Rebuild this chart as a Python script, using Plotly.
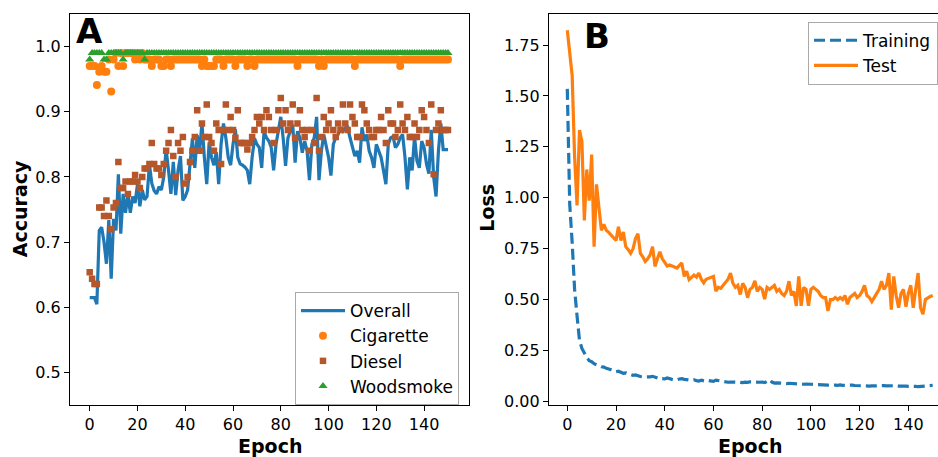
import plotly.graph_objects as go

epochs = list(range(151))

overall = [0.615, 0.615, 0.615, 0.605, 0.718, 0.723, 0.700, 0.667, 0.734, 0.644,
           0.736, 0.718, 0.804, 0.713, 0.774, 0.745, 0.774, 0.745, 0.770, 0.760,
           0.789, 0.755, 0.780, 0.765, 0.770, 0.819, 0.790, 0.779, 0.774, 0.785,
           0.780, 0.800, 0.842, 0.810, 0.774, 0.823, 0.772, 0.810, 0.832, 0.764,
           0.770, 0.780, 0.814, 0.859, 0.814, 0.864, 0.840, 0.882, 0.830, 0.789,
           0.853, 0.830, 0.818, 0.838, 0.789, 0.850, 0.882, 0.860, 0.830, 0.818,
           0.850, 0.873, 0.830, 0.820, 0.818, 0.815, 0.810, 0.789, 0.830, 0.859,
           0.850, 0.845, 0.814, 0.870, 0.860, 0.855, 0.845, 0.810, 0.850, 0.872,
           0.892, 0.859, 0.817, 0.860, 0.870, 0.880, 0.822, 0.870, 0.860, 0.837,
           0.855, 0.840, 0.795, 0.850, 0.860, 0.892, 0.795, 0.840, 0.865, 0.850,
           0.830, 0.802, 0.850, 0.860, 0.865, 0.876, 0.870, 0.875, 0.876, 0.860,
           0.845, 0.832, 0.840, 0.822, 0.876, 0.855, 0.865, 0.840, 0.830, 0.814,
           0.850, 0.840, 0.830, 0.810, 0.789, 0.850, 0.860, 0.862, 0.845, 0.850,
           0.860, 0.865, 0.830, 0.781, 0.830, 0.810, 0.862, 0.825, 0.814, 0.855,
           0.845, 0.820, 0.805, 0.872, 0.800, 0.770, 0.840, 0.882, 0.842, 0.842,
           0.842]

cigarette = [0.97, 0.97, 0.97, 0.941, 0.961, 0.97, 0.961, 0.961, 0.98, 0.931,
             0.98, 0.99, 0.97, 0.99, 0.97, 0.99, 0.99, 0.99, 0.99, 0.98,
             0.99, 0.98, 0.99, 0.98, 0.98, 0.98, 0.97, 0.98, 0.98, 0.98,
             0.97, 0.97, 0.98, 0.98, 0.97, 0.98, 0.98, 0.98, 0.98, 0.98,
             0.98, 0.98, 0.98, 0.98, 0.98, 0.98, 0.98, 0.97, 0.98, 0.97,
             0.97, 0.97, 0.97, 0.98, 0.98, 0.98, 0.97, 0.98, 0.98, 0.98,
             0.98, 0.97, 0.98, 0.98, 0.98, 0.98, 0.97, 0.98, 0.98, 0.97,
             0.98, 0.98, 0.98, 0.98, 0.98, 0.98, 0.98, 0.98, 0.98, 0.98,
             0.98, 0.98, 0.98, 0.98, 0.98, 0.98, 0.98, 0.97, 0.98, 0.98,
             0.98, 0.98, 0.98, 0.98, 0.98, 0.98, 0.97, 0.98, 0.97, 0.98,
             0.98, 0.98, 0.98, 0.98, 0.98, 0.98, 0.98, 0.98, 0.98, 0.98,
             0.98, 0.97, 0.98, 0.98, 0.98, 0.98, 0.98, 0.98, 0.98, 0.98,
             0.98, 0.98, 0.98, 0.98, 0.98, 0.98, 0.98, 0.98, 0.98, 0.98,
             0.97, 0.98, 0.98, 0.98, 0.98, 0.98, 0.98, 0.98, 0.98, 0.98,
             0.98, 0.98, 0.98, 0.98, 0.98, 0.98, 0.98, 0.98, 0.98, 0.98,
             0.98]

diesel = [0.654, 0.644, 0.636, 0.636, 0.753, 0.753, 0.740, 0.764, 0.740, 0.720,
          0.753, 0.760, 0.823, 0.783, 0.783, 0.793, 0.774, 0.793, 0.793, 0.803,
          0.793, 0.783, 0.800, 0.813, 0.813, 0.820, 0.852, 0.820, 0.813, 0.813,
          0.803, 0.820, 0.840, 0.852, 0.872, 0.832, 0.800, 0.852, 0.840, 0.861,
          0.790, 0.800, 0.823, 0.840, 0.861, 0.902, 0.840, 0.882, 0.861, 0.911,
          0.861, 0.852, 0.840, 0.882, 0.872, 0.820, 0.872, 0.911, 0.872, 0.892,
          0.872, 0.860, 0.902, 0.852, 0.852, 0.852, 0.842, 0.852, 0.861, 0.872,
          0.892, 0.882, 0.892, 0.872, 0.902, 0.892, 0.872, 0.852, 0.872, 0.902,
          0.921, 0.882, 0.902, 0.872, 0.882, 0.911, 0.860, 0.882, 0.902, 0.872,
          0.861, 0.872, 0.840, 0.872, 0.852, 0.921, 0.840, 0.861, 0.892, 0.872,
          0.882, 0.902, 0.872, 0.861, 0.882, 0.872, 0.911, 0.882, 0.872, 0.911,
          0.892, 0.882, 0.861, 0.861, 0.911, 0.902, 0.882, 0.872, 0.861, 0.861,
          0.872, 0.872, 0.892, 0.872, 0.852, 0.902, 0.882, 0.882, 0.861, 0.872,
          0.911, 0.882, 0.872, 0.892, 0.861, 0.861, 0.882, 0.861, 0.872, 0.902,
          0.892, 0.872, 0.852, 0.911, 0.804, 0.872, 0.882, 0.902, 0.872, 0.872,
          0.872]

woodsmoke = [0.98, 0.99, 0.99, 0.99, 0.99, 0.99, 0.98, 0.98, 0.99, 0.99,
             0.99, 0.99, 0.99, 0.99, 0.98, 0.99, 0.99, 0.99, 0.99, 0.99,
             0.99, 0.99, 0.99, 0.98] + [0.99] * 127

train_loss = [1.535, 0.969, 0.780, 0.550, 0.420, 0.300, 0.260, 0.235, 0.215, 0.200,
              0.195, 0.185, 0.178, 0.175, 0.170, 0.168, 0.162, 0.160, 0.155, 0.150,
              0.145, 0.148, 0.142, 0.138, 0.140, 0.135, 0.130, 0.128, 0.130, 0.125,
              0.122, 0.120, 0.120, 0.118, 0.120, 0.123, 0.118, 0.112, 0.110, 0.112,
              0.110, 0.115, 0.110, 0.108, 0.106, 0.105, 0.110, 0.112, 0.108, 0.105,
              0.105, 0.104, 0.106, 0.102, 0.100, 0.104, 0.100, 0.098, 0.102, 0.100,
              0.098, 0.104, 0.102, 0.097, 0.095, 0.096, 0.094, 0.095, 0.093, 0.094,
              0.095, 0.093, 0.092, 0.094, 0.093, 0.096, 0.095, 0.093, 0.092, 0.094,
              0.095, 0.092, 0.098, 0.106, 0.095, 0.090, 0.091, 0.089, 0.090, 0.088,
              0.087, 0.089, 0.088, 0.086, 0.087, 0.085, 0.086, 0.084, 0.085, 0.083,
              0.084, 0.083, 0.082, 0.083, 0.082, 0.081, 0.082, 0.080, 0.081, 0.082,
              0.080, 0.079, 0.081, 0.079, 0.080, 0.078, 0.079, 0.080, 0.078, 0.077,
              0.078, 0.076, 0.077, 0.076, 0.075, 0.076, 0.077, 0.075, 0.078, 0.079,
              0.077, 0.076, 0.077, 0.075, 0.076, 0.077, 0.075, 0.076, 0.074, 0.075,
              0.074, 0.075, 0.073, 0.074, 0.072, 0.073, 0.074, 0.075, 0.077, 0.078,
              0.079]

test_loss = [1.823, 1.700, 1.600, 1.200, 0.962, 1.333, 1.277, 0.889, 1.139, 0.986,
             1.212, 0.760, 1.066, 0.950, 0.840, 0.870, 0.840, 0.830, 0.816, 0.800,
             0.790, 0.857, 0.790, 0.832, 0.760, 0.745, 0.727, 0.750, 0.800, 0.824,
             0.727, 0.710, 0.687, 0.700, 0.720, 0.760, 0.663, 0.700, 0.735, 0.700,
             0.680, 0.665, 0.670, 0.663, 0.660, 0.655, 0.665, 0.680, 0.614, 0.640,
             0.598, 0.610, 0.620, 0.610, 0.630, 0.600, 0.582, 0.600, 0.605, 0.610,
             0.614, 0.541, 0.560, 0.555, 0.570, 0.590, 0.600, 0.630, 0.580, 0.560,
             0.570, 0.525, 0.580, 0.560, 0.509, 0.550, 0.560, 0.592, 0.540, 0.560,
             0.550, 0.502, 0.560, 0.550, 0.560, 0.570, 0.540, 0.550, 0.530, 0.520,
             0.540, 0.590, 0.520, 0.540, 0.469, 0.614, 0.469, 0.560, 0.550, 0.469,
             0.550, 0.560, 0.550, 0.540, 0.520, 0.510, 0.510, 0.444, 0.500, 0.500,
             0.510, 0.500, 0.510, 0.500, 0.520, 0.477, 0.510, 0.520, 0.530, 0.510,
             0.520, 0.540, 0.570, 0.520, 0.510, 0.490, 0.510, 0.530, 0.550, 0.590,
             0.550, 0.570, 0.630, 0.450, 0.614, 0.520, 0.460, 0.530, 0.550, 0.465,
             0.530, 0.570, 0.460, 0.550, 0.630, 0.460, 0.428, 0.500, 0.510, 0.515,
             0.520]

x_ticks = [0, 20, 40, 60, 80, 100, 120, 140]
acc_ticks = [0.5, 0.6, 0.7, 0.8, 0.9, 1.0]
loss_ticks = [0.0, 0.25, 0.5, 0.75, 1.0, 1.25, 1.5, 1.75]

BLUE = "#1f77b4"
ORANGE = "#ff7f0e"
DIESEL = "#b5572b"
GREEN = "#2ca02c"
FONT = "DejaVu Sans"

W, H = 938, 457

fig = go.Figure()

fig.add_trace(go.Scatter(x=epochs, y=overall, mode="lines", name="Overall",
                         line=dict(color=BLUE, width=3.2), legend="legend",
                         xaxis="x", yaxis="y"))
fig.add_trace(go.Scatter(x=epochs, y=cigarette, mode="markers", name="Cigarette",
                         marker=dict(color=ORANGE, size=8, symbol="circle"),
                         legend="legend", xaxis="x", yaxis="y"))
fig.add_trace(go.Scatter(x=epochs, y=diesel, mode="markers", name="Diesel",
                         marker=dict(color=DIESEL, size=6.5, symbol="square"),
                         legend="legend", xaxis="x", yaxis="y"))
fig.add_trace(go.Scatter(x=epochs, y=woodsmoke, mode="markers", name="Woodsmoke",
                         marker=dict(color=GREEN, size=8, symbol="triangle-up"),
                         legend="legend", xaxis="x", yaxis="y"))

fig.add_trace(go.Scatter(x=epochs, y=train_loss, mode="lines", name="Training",
                         line=dict(color=BLUE, width=3.2, dash="11px,5px"),
                         legend="legend2", xaxis="x2", yaxis="y2"))
fig.add_trace(go.Scatter(x=epochs, y=test_loss, mode="lines", name="Test",
                         line=dict(color=ORANGE, width=3.2),
                         legend="legend2", xaxis="x2", yaxis="y2"))

ydom = [47 / H, 443 / H]
axis_common = dict(showline=True, linecolor="black", linewidth=1.2, ticks="outside",
                   ticklen=5, tickwidth=1.2, tickcolor="black", showgrid=False,
                   zeroline=False, tickfont=dict(family=FONT, size=16, color="black"))

legend_common = dict(xanchor="left", yanchor="top", itemwidth=44,
                     bgcolor="rgba(255,255,255,0.8)", bordercolor="#aaaaaa",
                     borderwidth=1, font=dict(family=FONT, size=17, color="black"))

fig.update_layout(
    width=W, height=H,
    margin=dict(l=0, r=0, t=0, b=0),
    paper_bgcolor="white", plot_bgcolor="white",
    font=dict(family=FONT, color="black"),
    xaxis=dict(domain=[70 / W, 469 / W], range=[-8.25, 158.8], tickvals=x_ticks,
               mirror=True, anchor="y", **axis_common),
    yaxis=dict(domain=ydom, range=[0.4512, 1.0499], tickvals=acc_ticks,
               tickformat=".1f", mirror=True, anchor="x", **axis_common),
    xaxis2=dict(domain=[549 / W, 1.0], range=[-7.51, 152.17], tickvals=x_ticks,
                mirror=True, anchor="y2", **axis_common),
    yaxis2=dict(domain=ydom, range=[-0.016, 1.9036], tickvals=loss_ticks,
                tickformat=".2f", anchor="x2", **axis_common),
    legend=dict(x=295 / W, y=1 - 296 / H, **legend_common),
    legend2=dict(x=808 / W, y=1 - 22 / H, **legend_common),
    showlegend=True,
)

annots = [
    dict(text="<b>A</b>", x=74 / W, y=1 - 31.5 / H, xanchor="left", yanchor="middle",
         font=dict(size=34)),
    dict(text="<b>B</b>", x=582 / W, y=1 - 36.5 / H, xanchor="left", yanchor="middle",
         font=dict(size=34)),
    dict(text="<b>Accuracy</b>", x=20 / W, y=1 - 212 / H, xanchor="center",
         yanchor="middle", textangle=-90, font=dict(size=19)),
    dict(text="<b>Loss</b>", x=487.5 / W, y=1 - 211 / H, xanchor="center",
         yanchor="middle", textangle=-90, font=dict(size=19)),
    dict(text="<b>Epoch</b>", x=269.5 / W, y=1 - 439 / H, xanchor="center",
         yanchor="top", font=dict(size=19)),
    dict(text="<b>Epoch</b>", x=750 / W, y=1 - 439 / H, xanchor="center",
         yanchor="top", font=dict(size=19)),
]
for a in annots:
    a.update(xref="paper", yref="paper", showarrow=False)
    a["font"].update(family=FONT, color="black")
fig.update_layout(annotations=annots)

fig.write_html("out.html")
